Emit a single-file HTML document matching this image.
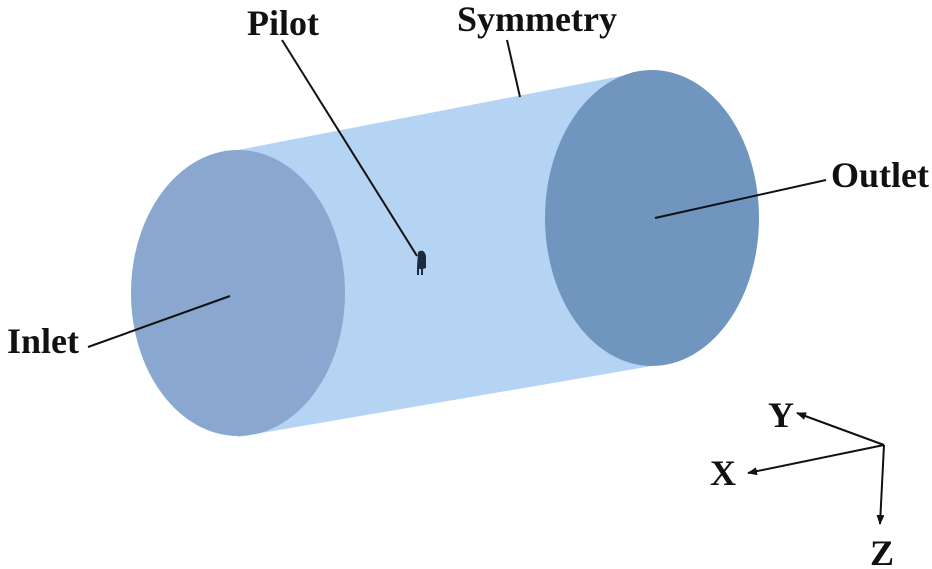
<!DOCTYPE html>
<html><head><style>
body{margin:0;background:#fff;}
svg{display:block}
text{font-family:"Liberation Serif",serif;font-weight:bold;font-size:36px;fill:#111}
</style></head><body>
<svg width="932" height="569" viewBox="0 0 932 569">
<defs><marker id="a" markerWidth="10" markerHeight="8" refX="9" refY="4" orient="auto" markerUnits="userSpaceOnUse"><path d="M0,0 L10,4 L0,8 z" fill="#111"/></marker></defs>
<path d="M238,150 L652,70 L652,366 L238,437 Z" fill="#b5d3f2"/>
<ellipse cx="238" cy="293" rx="107" ry="143" fill="#8aa8cf"/>
<ellipse cx="652" cy="218" rx="107" ry="148" fill="#7096c0"/>
<line x1="282" y1="40" x2="417" y2="256" stroke="#111" stroke-width="2"/>
<path d="M418,252 q6,-4 8,4 l0,12 l-3,1 l0,6 l-2,0 l0,-6 l-2,0 l0,6 l-2,0 l0,-8 z" fill="#1a2a40"/>
<line x1="507" y1="40" x2="520" y2="97" stroke="#111" stroke-width="2"/>
<line x1="826" y1="180" x2="655" y2="218" stroke="#111" stroke-width="2"/>
<line x1="88" y1="347" x2="230" y2="296" stroke="#111" stroke-width="2"/>
<text x="247" y="35">Pilot</text>
<text x="457" y="31">Symmetry</text>
<text x="831" y="187">Outlet</text>
<text x="7" y="353">Inlet</text>
<line x1="884" y1="445" x2="797" y2="413" stroke="#111" stroke-width="2" marker-end="url(#a)"/>
<line x1="884" y1="445" x2="748" y2="473" stroke="#111" stroke-width="2" marker-end="url(#a)"/>
<line x1="884" y1="445" x2="880" y2="524" stroke="#111" stroke-width="2" marker-end="url(#a)"/>
<text x="768" y="427">Y</text>
<text x="710" y="485">X</text>
<text x="870" y="565">Z</text>
</svg>
</body></html>
